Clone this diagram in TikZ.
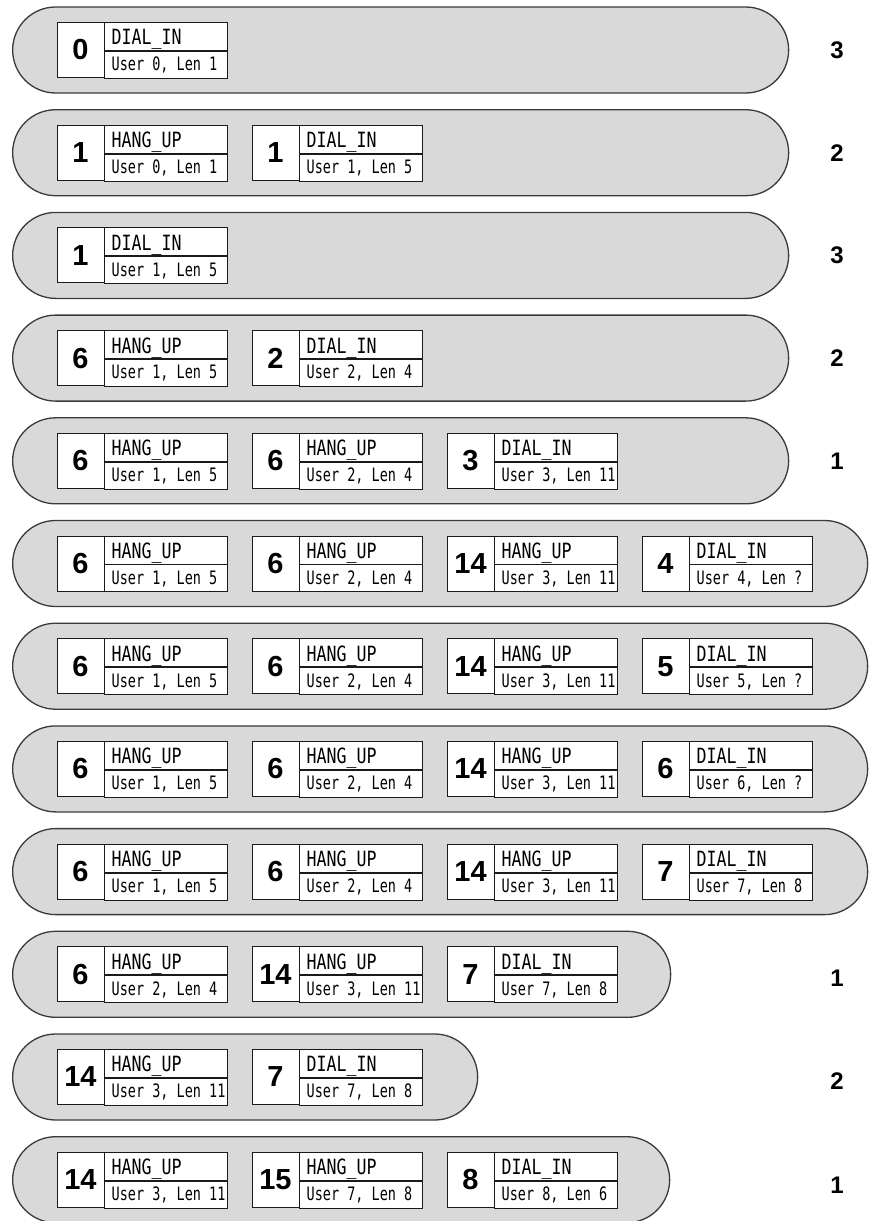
\documentclass[tikz,border=0pt]{standalone}
\usepackage{fontspec}
\usetikzlibrary{shapes.misc}
\newfontfamily\evfont[FakeStretch=0.79]{DejaVu Sans Mono}
\newfontfamily\dtfont[FakeStretch=0.73]{DejaVu Sans Mono}
\newfontfamily\numfont{Liberation Sans}
\definecolor{capfill}{HTML}{D9D9D9}
\definecolor{capline}{HTML}{3A3A3A}
\definecolor{cardline}{HTML}{1A1A1A}
\tikzset{
  capsule/.style={rounded rectangle, draw=capline, fill=capfill, line width=1.3pt,
    minimum height=86pt, inner sep=0pt, anchor=west},
  numcell/.style={draw=cardline, fill=white, line width=0.9pt, minimum width=47pt,
    minimum height=55pt, inner sep=0pt, font=\numfont\bfseries\fontsize{29}{29}\selectfont},
  evcell/.style={draw=cardline, fill=white, line width=0.9pt, minimum width=123pt,
    minimum height=28pt, inner sep=0pt, anchor=north west},
  dtcell/.style={draw=cardline, fill=white, line width=0.9pt, minimum width=123pt,
    minimum height=27pt, inner sep=0pt, anchor=north west},
  evtext/.style={inner sep=0pt, anchor=base west, text=black, font=\evfont\fontsize{21}{21}\selectfont},
  dttext/.style={inner sep=0pt, anchor=base west, text=black, font=\dtfont\fontsize{18.5}{18.5}\selectfont},
  cntlabel/.style={inner sep=0pt, font=\numfont\bfseries\fontsize{24}{24}\selectfont}
}
% #1 name, #2 x left, #3 y centre, #4 number, #5 event, #6 detail
\newcommand\card[6]{%
  \node[numcell] (#1n) at ({#2+23.5},{#3}) {#4};
  \node[evcell] (#1e) at (#1n.north east) {};
  \node[dtcell] (#1d) at (#1e.south west) {};
  \node[evtext] (#1et) at ([xshift=7pt,yshift=6pt]#1e.south west) {#5};
  \node[dttext] (#1dt) at ([xshift=7pt,yshift=8pt]#1d.south west) {#6};
}
\newcommand\capsulerow[3]{% #1 name, #2 y centre, #3 right end
  \node[capsule, minimum width={#3-12}] (#1) at (12,#2) {};
}
\begin{document}
\begin{tikzpicture}[x=1pt,y=-1pt]
\useasboundingbox (0,0) rectangle (870,1221);

% row 1
\capsulerow{row1}{50}{788}
\card{r1a}{57}{50}{0}{DIAL\_IN}{User 0, Len 1}
\node[cntlabel] (l1) at (837,50) {3};

% row 2
\capsulerow{row2}{152.7}{788}
\card{r2a}{57}{152.7}{1}{HANG\_UP}{User 0, Len 1}
\card{r2b}{252}{152.7}{1}{DIAL\_IN}{User 1, Len 5}
\node[cntlabel] (l2) at (837,152.7) {2};

% row 3
\capsulerow{row3}{255.4}{788}
\card{r3a}{57}{255.4}{1}{DIAL\_IN}{User 1, Len 5}
\node[cntlabel] (l3) at (837,255.4) {3};

% row 4
\capsulerow{row4}{358.1}{788}
\card{r4a}{57}{358.1}{6}{HANG\_UP}{User 1, Len 5}
\card{r4b}{252}{358.1}{2}{DIAL\_IN}{User 2, Len 4}
\node[cntlabel] (l4) at (837,358.1) {2};

% row 5
\capsulerow{row5}{460.8}{788}
\card{r5a}{57}{460.8}{6}{HANG\_UP}{User 1, Len 5}
\card{r5b}{252}{460.8}{6}{HANG\_UP}{User 2, Len 4}
\card{r5c}{447}{460.8}{3}{DIAL\_IN}{User 3, Len 11}
\node[cntlabel] (l5) at (837,460.8) {1};

% row 6
\capsulerow{row6}{563.5}{867}
\card{r6a}{57}{563.5}{6}{HANG\_UP}{User 1, Len 5}
\card{r6b}{252}{563.5}{6}{HANG\_UP}{User 2, Len 4}
\card{r6c}{447}{563.5}{14}{HANG\_UP}{User 3, Len 11}
\card{r6d}{642}{563.5}{4}{DIAL\_IN}{User 4, Len ?}

% row 7
\capsulerow{row7}{666.2}{867}
\card{r7a}{57}{666.2}{6}{HANG\_UP}{User 1, Len 5}
\card{r7b}{252}{666.2}{6}{HANG\_UP}{User 2, Len 4}
\card{r7c}{447}{666.2}{14}{HANG\_UP}{User 3, Len 11}
\card{r7d}{642}{666.2}{5}{DIAL\_IN}{User 5, Len ?}

% row 8
\capsulerow{row8}{768.9}{867}
\card{r8a}{57}{768.9}{6}{HANG\_UP}{User 1, Len 5}
\card{r8b}{252}{768.9}{6}{HANG\_UP}{User 2, Len 4}
\card{r8c}{447}{768.9}{14}{HANG\_UP}{User 3, Len 11}
\card{r8d}{642}{768.9}{6}{DIAL\_IN}{User 6, Len ?}

% row 9
\capsulerow{row9}{871.6}{867}
\card{r9a}{57}{871.6}{6}{HANG\_UP}{User 1, Len 5}
\card{r9b}{252}{871.6}{6}{HANG\_UP}{User 2, Len 4}
\card{r9c}{447}{871.6}{14}{HANG\_UP}{User 3, Len 11}
\card{r9d}{642}{871.6}{7}{DIAL\_IN}{User 7, Len 8}

% row 10
\capsulerow{row10}{974.3}{670}
\card{r10a}{57}{974.3}{6}{HANG\_UP}{User 2, Len 4}
\card{r10b}{252}{974.3}{14}{HANG\_UP}{User 3, Len 11}
\card{r10c}{447}{974.3}{7}{DIAL\_IN}{User 7, Len 8}
\node[cntlabel] (l10) at (837,978) {1};

% row 11
\capsulerow{row11}{1077}{477}
\card{r11a}{57}{1077}{14}{HANG\_UP}{User 3, Len 11}
\card{r11b}{252}{1077}{7}{DIAL\_IN}{User 7, Len 8}
\node[cntlabel] (l11) at (837,1081) {2};

% row 12
\capsulerow{row12}{1179.7}{669}
\card{r12a}{57}{1179.7}{14}{HANG\_UP}{User 3, Len 11}
\card{r12b}{252}{1179.7}{15}{HANG\_UP}{User 7, Len 8}
\card{r12c}{447}{1179.7}{8}{DIAL\_IN}{User 8, Len 6}
\node[cntlabel] (l12) at (837,1185) {1};
\end{tikzpicture}
\end{document}
